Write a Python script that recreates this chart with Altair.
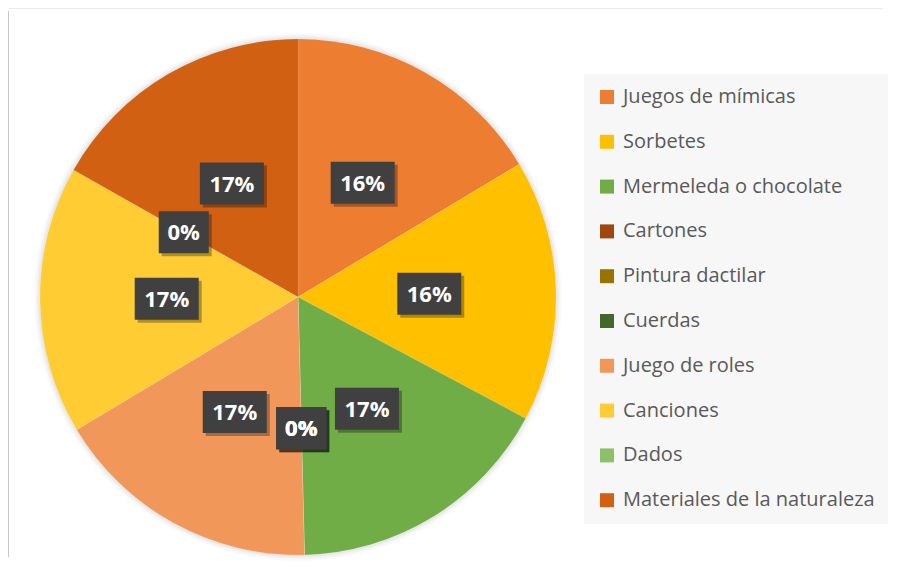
import altair as alt
import pandas as pd

categories = ["Juegos de mímicas", "Sorbetes", "Mermeleda o chocolate", "Cartones",
              "Pintura dactilar", "Cuerdas", "Juego de roles", "Canciones", "Dados",
              "Materiales de la naturaleza"]
values = [16.4, 16.4, 16.8, 0, 0, 0, 16.8, 16.8, 0, 16.8]
colors = ["#ED7D31", "#FFC000", "#70AD47", "#9E480E", "#997300", "#43682B",
          "#F1975A", "#FFCD33", "#8CC168", "#D26012"]

df = pd.DataFrame({"cat": categories, "val": values, "idx": list(range(len(categories)))})

W = 520
R = 258
LR = 0.505  # label radius as fraction of half width

base = alt.Chart(df)

glow = [
    alt.Chart(df.head(1)).mark_arc(theta=0, theta2=6.2832, outerRadius=R + d, opacity=o)
    .encode(color=alt.value("#000000"))
    for d, o in [(6, 0.02), (4, 0.03), (2, 0.04)]
]

pie = base.mark_arc(outerRadius=R, stroke="#ffffff", strokeWidth=0.3, strokeOpacity=0.3).encode(
    theta=alt.Theta("val:Q", stack=True),
    order=alt.Order("idx:Q"),
    color=alt.Color("cat:N", scale=alt.Scale(domain=categories, range=colors),
                    legend=alt.Legend(orient="none", legendX=546, legendY=37, title=None,
                                      direction="vertical", fillColor="#F7F7F7", padding=13,
                                      symbolType="square", symbolSize=196, symbolStrokeWidth=0,
                                      labelFontSize=20, labelFont="Open Sans", labelColor="#595959",
                                      rowPadding=24.8, labelOffset=6, labelLimit=400)),
)

pos = base.transform_window(
    cum="sum(val)", sort=[alt.SortField("idx")]
).transform_joinaggregate(
    total="sum(val)"
).transform_calculate(
    mid="(datum.cum - datum.val/2) / datum.total * 2 * PI",
    frac="datum.val / datum.total",
).transform_calculate(
    px=f"{LR} * sin(datum.mid)",
    py=f"{LR} * cos(datum.mid)",
)

xs = alt.X("px:Q", scale=alt.Scale(domain=[-1, 1]), axis=None)
ys = alt.Y("py:Q", scale=alt.Scale(domain=[-1, 1]), axis=None)

wide = "M-1.6,-1.05H1.6V1.05H-1.6Z"
narrow = "M-1.25,-1.05H1.25V1.05H-1.25Z"

def boxes(filt, path):
    p = pos.transform_filter(filt)
    shadow = p.mark_point(shape=path, size=400 * 4, filled=True, color="#000000", opacity=0.3,
                          xOffset=3, yOffset=3, strokeWidth=0).encode(x=xs, y=ys)
    box = p.mark_point(shape=path, size=400 * 4, filled=True, color="#404040", opacity=1,
                       strokeWidth=0).encode(x=xs, y=ys)
    txt = p.mark_text(font="Open Sans", fontSize=22, fontWeight="bold", color="#FFFFFF",
                      baseline="middle", align="center", dy=1).encode(
        x=xs, y=ys, text=alt.Text("frac:Q", format=".0%"))
    return [shadow, box, txt]

frame = [
    alt.Chart(df.head(1)).mark_rule(color="#C8C8C8", strokeWidth=1).encode(
        x=alt.value(-29.5), x2=alt.value(-29.5), y=alt.value(-26), y2=alt.value(520)),
    alt.Chart(df.head(1)).mark_rule(color="#EBEBEB", strokeWidth=1).encode(
        x=alt.value(-29.5), x2=alt.value(845), y=alt.value(-28.5), y2=alt.value(-28.5)),
]

chart = alt.layer(
    *frame, *glow, pie,
    *boxes("datum.val > 0", wide),
    *boxes("datum.val == 0", narrow),
).resolve_scale(theta="independent").properties(
    width=W, height=W,
    padding={"left": 0, "top": 0, "right": 0, "bottom": 0},
).configure_view(stroke=None)

chart.save("out.html", embed_options={"renderer": "svg", "actions": False})
